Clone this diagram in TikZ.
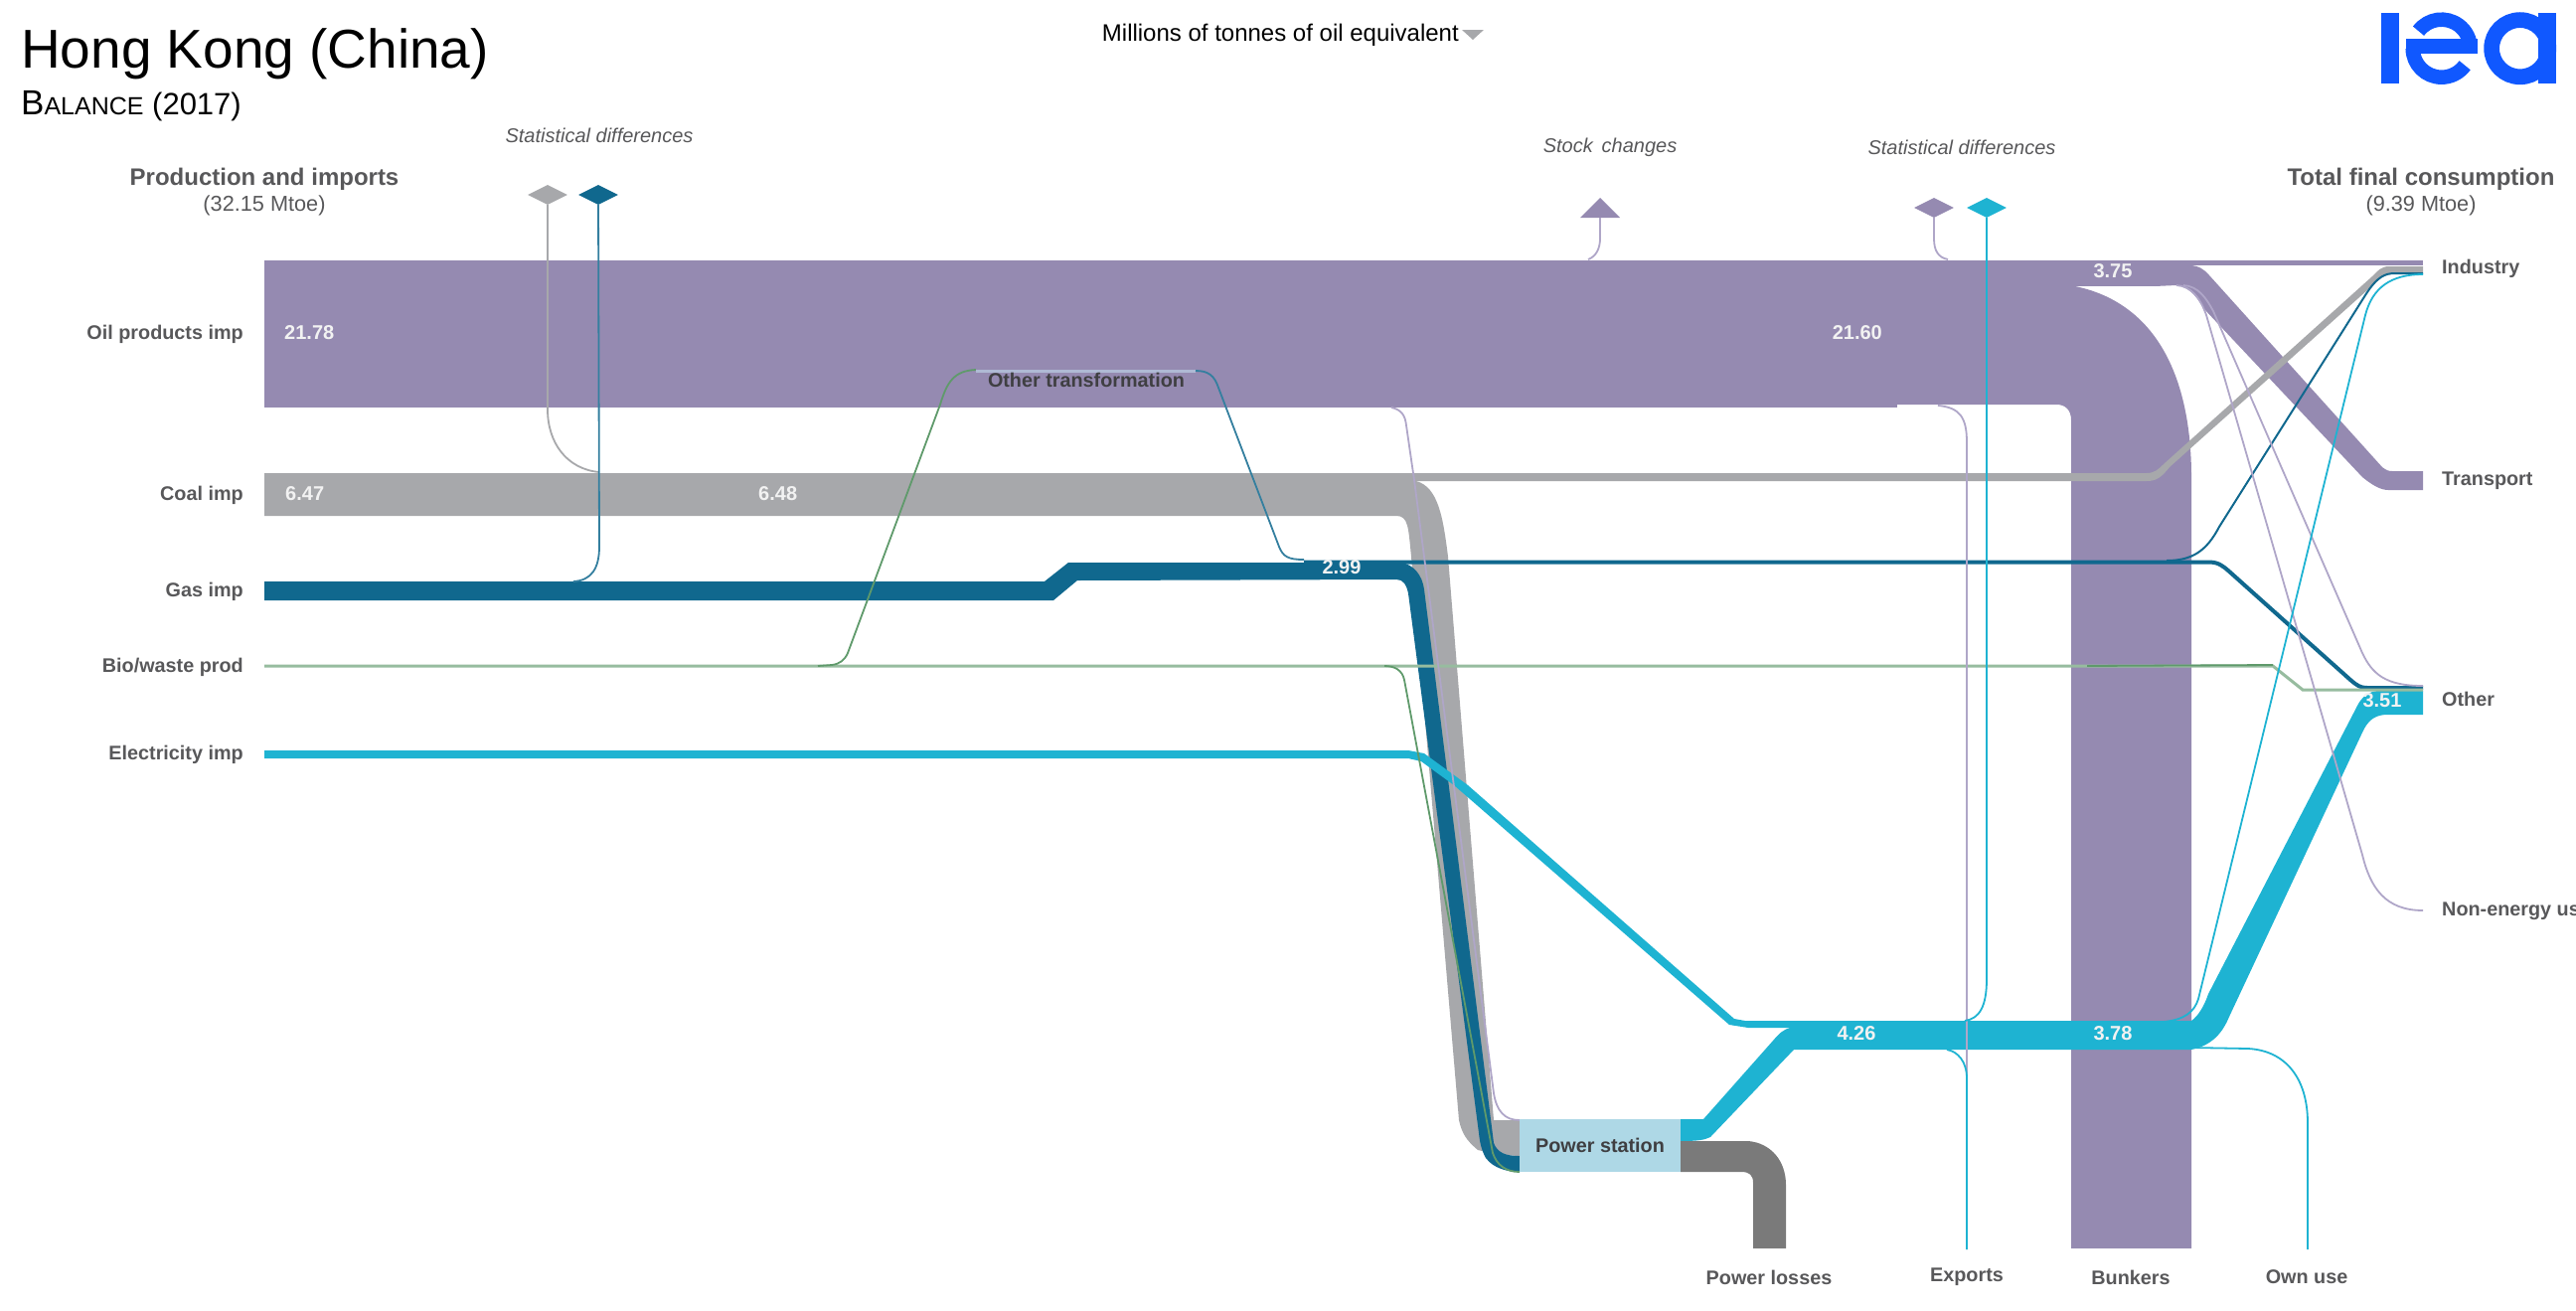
\documentclass[tikz,border=0pt]{standalone}
\usepackage{fontspec}
\setmainfont{Liberation Sans}
\usetikzlibrary{shapes.geometric}
\definecolor{oilc}{HTML}{958AB1}
\definecolor{oill}{HTML}{AFA6C8}
\definecolor{coalc}{HTML}{A7A8AB}
\definecolor{gasc}{HTML}{10688E}
\definecolor{bioc}{HTML}{97BC9F}
\definecolor{biod}{HTML}{5F9A6B}
\definecolor{elecc}{HTML}{1EB3D2}
\definecolor{boxc}{HTML}{AED8E6}
\definecolor{lossc}{HTML}{7A7A7A}
\definecolor{logoc}{HTML}{1058FF}
\definecolor{labc}{HTML}{58585A}
\definecolor{darkc}{HTML}{3F3F42}
\begin{document}
\begin{tikzpicture}[x=1pt, y=-1pt,
  lab/.style = {inner sep=0, text=labc, font=\fontsize{19.8}{22}\selectfont\bfseries},
  head/.style = {inner sep=0, text=labc, font=\fontsize{24}{26}\selectfont\bfseries},
  sub/.style = {inner sep=0, text=labc, font=\fontsize{21.7}{24}\selectfont},
  note/.style = {inner sep=0, text=labc, font=\fontsize{20}{22}\selectfont\itshape},
  val/.style = {inner sep=0, text=white!90!gray, font=\fontsize{20}{22}\selectfont\bfseries},
  marker/.style = {draw=none, diamond, inner sep=0, minimum width=40pt, minimum height=20pt},
  flow/.style = {line width=1.8pt}]
  \useasboundingbox (0,0) rectangle (2592,1318);
  % titles
  \node[anchor=base west, inner sep=0] (title) at (21,68) {\fontsize{55}{60}\selectfont Hong Kong (China)};
  \node[anchor=base west, inner sep=0] (subtitle) at (21,115) {\fontsize{35}{40}\selectfont B\fontsize{25}{40}\selectfont ALANCE\fontsize{31}{40}\selectfont{} (2017)};
  \node[inner sep=0, anchor=east] (unit) at (1468,35) {\fontsize{24}{26}\selectfont Millions of tonnes of oil equivalent};
  \fill[coalc] (1471,30) -- (1493,30) -- (1482,40) -- cycle;
  % logo
  \fill[logoc] (2396,13) rectangle (2414,84);
  \fill[logoc] (2421,39) rectangle (2493,54);
  \draw[logoc, line width=14.5pt] (2433.5,31.2) arc (143:0:29pt);
  \draw[logoc, line width=14.5pt] (2427.7,48.7) arc (180:324:29pt);
  \draw[logoc, line width=15.7pt] (2535.7,48.7) circle (28.6pt);
  \fill[logoc] (2554,13) rectangle (2572,84);
  % markers
  \node[marker, fill=coalc] (sdcoal) at (551,196) {};
  \node[marker, fill=gasc] (sdgas) at (602,196) {};
  \node[marker, fill=oilc] (sdoil) at (1946,209) {};
  \node[marker, fill=elecc] (sdelec) at (1999,209) {};
  \fill[oilc] (1610,199) -- (1630,219) -- (1590,219) -- cycle;
  \coordinate (stock) at (1610,219);
  % oil
  \fill[oilc] (266,262) rectangle (1909,410);
  \fill[oilc] (1909,262) rectangle (2168,288);
  \fill[oilc] (2168,262) rectangle (2438,267);
  \fill[oilc] (1909,288) -- (2088,288) .. controls (2170,305) and (2205,380) .. (2205,480)
    -- (2205,1256) -- (2084,1256) -- (2084,423) .. controls (2084,412) and (2078,407) .. (2069,407)
    -- (1909,407) -- cycle;
  \fill[oilc] (2168,267) -- (2203,267) .. controls (2212,267) and (2218,271) .. (2223,277)
    -- (2397,470) .. controls (2401,473) and (2403,474) .. (2407,474) -- (2438,474) -- (2438,493)
    -- (2403,493) .. controls (2396,493) and (2388,489) .. (2377,480) -- (2217,310)
    .. controls (2210,297) and (2201,288) .. (2190,287) -- (2168,288) -- cycle;
  % coal
  \fill[coalc] (266,476) -- (1393,476) -- (1393,484) -- (1425,484) .. controls (1447,490) and (1452,520) .. (1457,560)
    -- (1503,1127) -- (1529,1127) -- (1529,1163) -- (1508,1162) -- (1487,1157)
    .. controls (1475,1147) and (1471,1140) .. (1468,1127) -- (1420,560)
    .. controls (1417,530) and (1417,519) .. (1405,519) -- (266,519) -- cycle;
  \fill[coalc] (1393,476) -- (2160,476) .. controls (2168,476) and (2172,472) .. (2177,467) -- (2387,278)
    .. controls (2393,272) and (2396,268) .. (2404,268) -- (2438,268)
    -- (2438,274) -- (2403,275) .. controls (2398,277) and (2396,279) .. (2392,283) -- (2183,470)
    .. controls (2175,480) and (2170,484) .. (2160,484) -- (1393,484) -- cycle;
  % gas
  \fill[gasc] (266,585) -- (1051,585) -- (1075,566) -- (1410,566) .. controls (1422,568) and (1431,578) .. (1433,593)
    -- (1503,1150) .. controls (1507,1160) and (1515,1163) .. (1529,1163) -- (1529,1179)
    .. controls (1518,1179) and (1503,1176) .. (1495,1165) .. controls (1491,1158) and (1489,1150) .. (1488,1140)
    -- (1417,597) .. controls (1415,588) and (1412,583) .. (1405,583) -- (1084,584) -- (1060,604) -- (266,604) -- cycle;
  % thin gas flows
  \draw[gasc, line width=4pt] (1312,565.5) -- (2222,565.5) .. controls (2232,565.5) and (2236,569) .. (2242,574)
    -- (2365,684) .. controls (2372,690) and (2375,692) .. (2382,692) -- (2438,692);
  \draw[gasc, line width=2pt] (2180,564) .. controls (2205,564) and (2220,555) .. (2233,530) -- (2380,297)
    .. controls (2392,278) and (2400,275) .. (2410,275) -- (2438,275);
  % electricity
  \fill[elecc] (266,755) -- (1417,755) -- (1433,758) -- (1477,790) -- (1745,1025) -- (1756,1027) -- (2205,1027)
    .. controls (2212,1022) and (2218,1012) .. (2222,1000) -- (2373,708) .. controls (2378,700) and (2384,695) .. (2395,695)
    -- (2438,695) -- (2438,719) -- (2400,719) .. controls (2388,720) and (2382,726) .. (2377,737)
    -- (2243,1023) .. controls (2236,1040) and (2225,1052) .. (2205,1056) -- (1805,1056)
    -- (1721,1144) .. controls (1715,1147) and (1708,1148) .. (1691,1148) -- (1691,1126) -- (1714,1126)
    -- (1784,1047) .. controls (1790,1040) and (1795,1035) .. (1802,1034) -- (1759,1034)
    -- (1740,1031) -- (1463,790) -- (1430,766) -- (1417,763) -- (266,763) -- cycle;
  % losses
  \fill[lossc] (1691,1148) -- (1759,1148) .. controls (1782,1150) and (1797,1168) .. (1797,1192) -- (1797,1256)
    -- (1764,1256) -- (1764,1190) .. controls (1764,1182) and (1760,1179) .. (1752,1179) -- (1691,1179) -- cycle;
  % bio
  \draw[bioc, line width=3pt] (266,670) -- (2287,670) -- (2317,694) -- (2438,694);
  \draw[biod, flow] (823,670) -- (837,669) .. controls (845,668) and (850,664) .. (853,657) -- (946,407)
    .. controls (953,384) and (960,373) .. (982,372);
  \draw[biod, flow] (1393,670) .. controls (1403,670) and (1411,674) .. (1413,684) -- (1502,1160)
    .. controls (1506,1172) and (1515,1179) .. (1529,1179);
  \draw[biod, flow] (2100,670) -- (2287,669);
  % other transformation
  \draw[line width=3pt, color=oill!60!boxc] (982,373) -- (1203,373);
  \draw[gasc!85!white, flow] (1203,373) .. controls (1216,373) and (1222,378) .. (1226,390) -- (1287,550)
    .. controls (1291,560) and (1296,563) .. (1312,563);
  % thin oil flows
  \draw[oill, flow] (1598,261) .. controls (1606,258) and (1610,250) .. (1610,240) -- (stock);
  \draw[oill, flow] (sdoil) -- (1946,240) .. controls (1946,252) and (1950,259) .. (1960,261);
  \draw[oill, flow] (1400,410) .. controls (1410,412) and (1414,418) .. (1415,428) -- (1423,483) -- (1503,1100)
    .. controls (1506,1118) and (1514,1127) .. (1529,1127);
  \draw[oill, flow] (1950,408) .. controls (1972,410) and (1979,420) .. (1979,445) -- (1979,1257);
  \draw[oill, flow] (2190,287) .. controls (2205,288) and (2214,300) .. (2220,317) -- (2377,860)
    .. controls (2385,893) and (2400,916) .. (2438,916);
  \draw[oill, flow] (2197,287) .. controls (2212,288) and (2220,300) .. (2227,313) -- (2377,657)
    .. controls (2387,678) and (2400,690) .. (2438,690);
  % thin electricity flows
  \draw[elecc, flow] (2177,1028) .. controls (2198,1026) and (2208,1018) .. (2212,1005) -- (2380,317)
    .. controls (2387,290) and (2405,276) .. (2438,276);
  \draw[elecc, flow] (sdelec) -- (1999,985) .. controls (1999,1012) and (1992,1025) .. (1977,1027);
  \draw[elecc, flow] (1959,1056) .. controls (1970,1058) and (1979,1068) .. (1979,1085) -- (1979,1257);
  \draw[elecc, flow] (2205,1054) -- (2262,1055) .. controls (2300,1057) and (2322,1085) .. (2322,1130) -- (2322,1257);
  % statistical differences on the left
  \draw[coalc, flow] (sdcoal) -- (551,412) .. controls (551,445) and (570,472) .. (603,475);
  \draw[gasc!85!white, flow] (sdgas) -- (603,550) .. controls (603,572) and (595,584) .. (577,585);
  % boxes
  \node[fill=boxc, inner sep=0, minimum width=162pt, minimum height=53pt, text=darkc, font=\fontsize{19.8}{22}\selectfont\bfseries] (power) at (1610,1152.5) {Power station};
  \node[inner sep=0, text=darkc, font=\fontsize{19.8}{22}\selectfont\bfseries] (trans) at (1093,382) {Other transformation};
  % left labels
  \node[head] (prod) at (266,180) {Production and imports};
  \node[sub] (prodval) at (266,207) {(32.15 Mtoe)};
  \node[lab, anchor=east] (oil) at (245,336) {Oil products imp};
  \node[lab, anchor=east] (coal) at (245,498) {Coal imp};
  \node[lab, anchor=east] (gas) at (245,595) {Gas imp};
  \node[lab, anchor=east] (bio) at (245,671) {Bio/waste prod};
  \node[lab, anchor=east] (elec) at (245,759) {Electricity imp};
  % notes
  \node[note] (sd1) at (603,136) {Statistical differences};
  \node[note] (sc) at (1620,148) {Stock\, changes};
  \node[note] (sd2) at (1974,148) {Statistical differences};
  % values
  \node[val, anchor=west] (v1) at (286,335) {21.78};
  \node[val, anchor=west] (v2) at (287,497) {6.47};
  \node[val, anchor=west] (v3) at (763,497) {6.48};
  \node[val] (v4) at (1350,571) {2.99};
  \node[val, anchor=east] (v5) at (1894,335) {21.60};
  \node[val] (v6) at (2126,273) {3.75};
  \node[val] (v7) at (1868,1040) {4.26};
  \node[val] (v8) at (2126,1040) {3.78};
  \node[val] (v9) at (2397,705) {3.51};
  % right labels
  \node[head] (tfc) at (2436,180) {Total final consumption};
  \node[sub] (tfcval) at (2436,207) {(9.39 Mtoe)};
  \node[lab, anchor=west] (ind) at (2457,270) {Industry};
  \node[lab, anchor=west] (tran) at (2457,484) {Transport};
  \node[lab, anchor=west] (oth) at (2457,703) {Other};
  \node[lab, anchor=west] (non) at (2457,917) {Non-energy us};
  % bottom labels
  \node[lab] (loss) at (1780,1285) {Power losses};
  \node[lab] (exp) at (1979,1285) {Exports};
  \node[lab] (bun) at (2144,1285) {Bunkers};
  \node[lab] (own) at (2321,1285) {Own use};
\end{tikzpicture}
\end{document}
